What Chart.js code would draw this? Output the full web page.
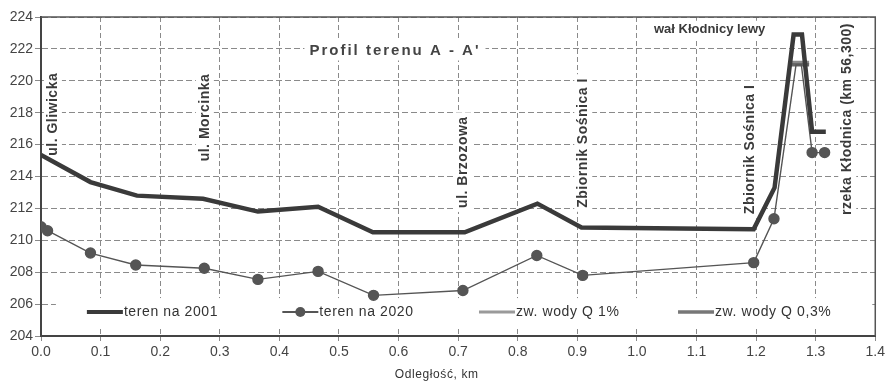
<!DOCTYPE html>
<html><head><meta charset="utf-8">
<script src="https://cdn.jsdelivr.net/npm/chart.js@4/dist/chart.umd.min.js"></script>
<style>html,body{margin:0;padding:0;background:#fff}#w{width:888px;height:382px;position:relative}</style>
</head><body><div id="w"><canvas id="c"></canvas></div>
<script>
// ---- data (distance km, elevation m) ----
const teren2001X = [0.0, 0.083, 0.161, 0.272, 0.364, 0.465, 0.557, 0.711, 0.833, 0.907, 1.196, 1.231, 1.263, 1.277, 1.294, 1.317];
const teren2001Y = [215.35, 213.65, 212.8, 212.6, 211.8, 212.1, 210.5, 210.5, 212.3, 210.8, 210.7, 213.3, 222.9, 222.9, 216.8, 216.8];
const teren2020X = [0.0, 0.011, 0.083, 0.159, 0.274, 0.364, 0.465, 0.558, 0.708, 0.832, 0.909, 1.196, 1.230, 1.267, 1.276, 1.294, 1.315];
const teren2020Y = [210.85, 210.6, 209.2, 208.45, 208.25, 207.55, 208.05, 206.55, 206.85, 209.05, 207.8, 208.6, 211.35, 221.0, 221.0, 215.5, 215.5];
const teren2020Marker = [1, 1, 1, 1, 1, 1, 1, 1, 1, 1, 1, 1, 1, 0, 0, 1, 1];
const q1X = [1.257, 1.289];
const q1Y = [221.15, 221.15];
const q03X = [1.257, 1.289];
const q03Y = [221.0, 221.0];
const seriesNames = ['teren na 2001', 'teren na 2020', 'zw. wody Q 1%', 'zw. wody Q 0,3%'];
const xTicks = [0.0,0.1,0.2,0.3,0.4,0.5,0.6,0.7,0.8,0.9,1.0,1.1,1.2,1.3,1.4];
const yTicks = [204,206,208,210,212,214,216,218,220,222,224];
// vertical place labels: [text, x km, centre elevation]
const placeLabels = [
  ['ul. Gliwicka', 0.020, 217.9],
  ['ul. Morcinka', 0.275, 217.7],
  ['ul. Brzozowa', 0.708, 214.9],
  ['Zbiornik Sośnica I', 0.910, 216.1],
  ['Zbiornik Sośnica I', 1.190, 215.7],
  ['rzeka Kłodnica (km 56,300)', 1.353, 217.6]
];
const chartTitle = ['Profil terenu A - A\'', 0.594, 221.9];
const levee = ['wał Kłodnicy lewy', 1.122, 223.2];
const xTitle = ['Odległość, km', 0.664];
const legendPos = [0.077, 0.405, 0.735, 1.069];
const legendLevel = 205.5;

const pts = (xs, ys) => xs.map((x, i) => ({x, y: ys[i]}));
const ink = '#3a3a3a';
const FONT = '"Liberation Sans", Arial, sans-serif';
const VFONT = 'bold 14px ' + FONT, TFONT = 'bold 15px ' + FONT, LFONT = 'bold 13px ' + FONT, GFONT = '14px ' + FONT;

function measure(ctx, font, sp, t) { ctx.save(); ctx.font = font; ctx.letterSpacing = sp; const w = ctx.measureText(t).width; ctx.restore(); return w; }

const overlay = {
  id: 'overlay',
  beforeDatasetsDraw(chart) {
    const {ctx, chartArea: a, scales: {x, y}} = chart;
    ctx.save();
    ctx.fillStyle = '#fff';
    placeLabels.forEach(([t, xv, yv]) => {
      const w = measure(ctx, VFONT, '0.5px', t) + 8;
      ctx.fillRect(x.getPixelForValue(xv) - 9, y.getPixelForValue(yv) - w / 2, 18, w);
    });
    let w = measure(ctx, TFONT, '2px', chartTitle[0]) + 10;
    ctx.fillRect(x.getPixelForValue(chartTitle[1]) - w / 2, y.getPixelForValue(chartTitle[2]) - 10, w, 20);
    w = measure(ctx, LFONT, '0px', levee[0]) + 10;
    ctx.fillRect(x.getPixelForValue(levee[1]) - w / 2, y.getPixelForValue(levee[2]) - 9, w, 18);
    const ly = y.getPixelForValue(legendLevel);
    const lx = x.getPixelForValue(0.025);
    ctx.fillRect(lx, ly - 14, a.right - 3 - lx, 28);
    ctx.restore();
  },
  afterDraw(chart) {
    const {ctx, chartArea: a, scales: {x, y}} = chart;
    ctx.save();
    // frame top/right
    ctx.strokeStyle = '#555'; ctx.lineWidth = 1.5;
    ctx.beginPath(); ctx.moveTo(a.left, a.top); ctx.lineTo(a.right, a.top); ctx.lineTo(a.right, a.bottom); ctx.stroke();
    ctx.fillStyle = ink;
    ctx.font = VFONT;
    ctx.letterSpacing = '0.5px';
    ctx.textAlign = 'center'; ctx.textBaseline = 'middle';
    placeLabels.forEach(([t, xv, yv]) => {
      ctx.save();
      ctx.translate(x.getPixelForValue(xv), y.getPixelForValue(yv));
      ctx.rotate(-Math.PI / 2);
      ctx.fillText(t, 0, 0);
      ctx.restore();
    });
    ctx.letterSpacing = '0px';
    ctx.font = LFONT;
    ctx.fillText(levee[0], x.getPixelForValue(levee[1]), y.getPixelForValue(levee[2]));
    ctx.font = TFONT;
    ctx.letterSpacing = '2px';
    ctx.fillStyle = '#444';
    ctx.fillText(chartTitle[0], x.getPixelForValue(chartTitle[1]), y.getPixelForValue(chartTitle[2]));
    ctx.font = '12px ' + FONT;
    ctx.letterSpacing = '0.6px';
    ctx.fillStyle = '#333';
    ctx.fillText(xTitle[0], x.getPixelForValue(xTitle[1]), a.bottom + 39);
    // legend
    const ly = y.getPixelForValue(legendLevel);
    const styles = [
      {c: ink, w: 4, m: false},
      {c: '#555', w: 2, m: true},
      {c: '#9a9a9a', w: 3, m: false},
      {c: '#777', w: 3.5, m: false}
    ];
    ctx.font = GFONT;
    ctx.letterSpacing = '0.6px';
    ctx.textAlign = 'left';
    seriesNames.forEach((n, i) => {
      const x0 = x.getPixelForValue(legendPos[i]);
      const s = styles[i];
      ctx.strokeStyle = s.c; ctx.lineWidth = s.w;
      ctx.beginPath(); ctx.moveTo(x0, ly); ctx.lineTo(x0 + 36, ly); ctx.stroke();
      if (s.m) { ctx.fillStyle = s.c; ctx.beginPath(); ctx.arc(x0 + 18, ly, 5, 0, Math.PI * 2); ctx.fill(); }
      ctx.fillStyle = '#333';
      ctx.fillText(n, x0 + 37, ly);
    });
    ctx.restore();
  }
};

new Chart(document.getElementById('c'), {
  type: 'scatter',
  data: {
    datasets: [
      {label: seriesNames[2], data: pts(q1X, q1Y), showLine: true, borderColor: '#8a8a8a', borderWidth: 3.5, pointRadius: 0, order: 3},
      {label: seriesNames[3], data: pts(q03X, q03Y), showLine: true, borderColor: '#666', borderWidth: 3.5, pointRadius: 0, order: 2},
      {label: seriesNames[1], data: pts(teren2020X, teren2020Y), showLine: true, borderColor: '#555', borderWidth: 1.4,
       pointRadius: teren2020Marker.map(m => m ? 5 : 0), pointBackgroundColor: '#555', pointBorderColor: '#555', order: 1},
      {label: seriesNames[0], data: pts(teren2001X, teren2001Y), showLine: true, borderColor: ink, borderWidth: 4.5, pointRadius: 0, order: 0}
    ]
  },
  options: {
    responsive: true, maintainAspectRatio: false, animation: false,
    layout: {padding: {top: 17, right: 12, left: 0, bottom: 0}},
    plugins: {legend: {display: false}, tooltip: {enabled: false}},
    scales: {
      x: {
        type: 'linear', min: 0, max: 1.4,
        afterBuildTicks: s => { s.ticks = xTicks.map(v => ({value: v})); },
        afterFit: s => { s.height = 46; },
        ticks: {color: '#444', font: {family: FONT, size: 14}, padding: 3, callback: v => v.toFixed(1)},
        grid: {color: '#8a8a8a', lineWidth: 1, tickLength: 5},
        border: {color: '#444', width: 2, dash: [5, 3]}
      },
      y: {
        min: 204, max: 224,
        afterBuildTicks: s => { s.ticks = yTicks.map(v => ({value: v})); },
        afterFit: s => { s.width = 41; },
        ticks: {color: '#444', font: {family: FONT, size: 14}, padding: 2},
        grid: {color: '#8a8a8a', lineWidth: 1, tickLength: 6},
        border: {color: '#444', width: 2, dash: [6, 3]}
      }
    }
  },
  plugins: [overlay]
});
</script></body></html>
